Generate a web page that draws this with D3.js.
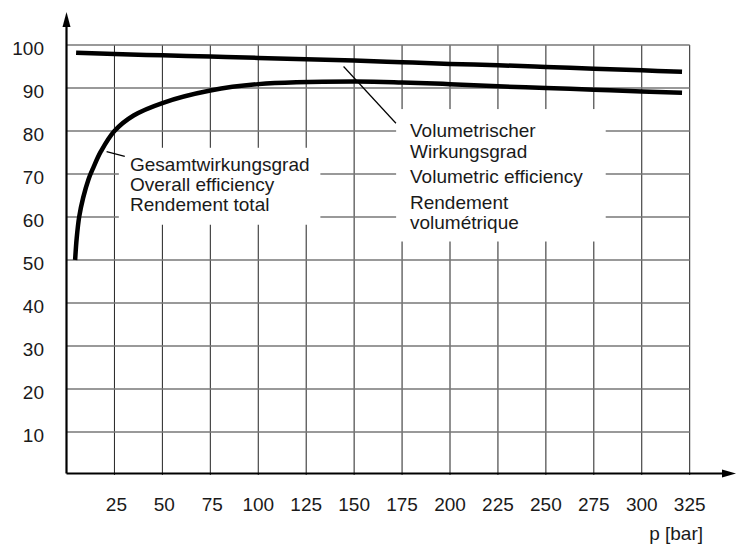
<!DOCTYPE html>
<html>
<head>
<meta charset="utf-8">
<script src="https://cdn.jsdelivr.net/npm/d3@7"></script>
<style>
  body { margin: 0; background: #fff; }
  svg text { font-family: "Liberation Sans", Arial, sans-serif; fill: #1a1a1a; }
</style>
</head>
<body>
<svg id="chart" width="736" height="545"></svg>
<script>
// 軸の目盛り
const xTicks = [25, 50, 75, 100, 125, 150, 175, 200, 225, 250, 275, 300, 325];
const yTicks = [10, 20, 30, 40, 50, 60, 70, 80, 90, 100];

// 容積効率 (Volumetric efficiency)
const volP   = [5, 25, 50, 75, 100, 150, 175, 200, 225, 250, 275, 300, 321];
const volEff = [98.2, 97.9, 97.6, 97.3, 97.0, 96.4, 96.0, 95.6, 95.3, 94.9, 94.5, 94.1, 93.8];

// 全効率 (Overall efficiency)
const totP   = [4.5, 5.3, 6.6, 8.7, 11.5, 14, 18, 25, 35, 50, 75, 100, 150, 175, 200, 225, 250, 275, 300, 321];
const totEff = [50, 55, 60, 64.5, 68.8, 71.5, 75.3, 80, 83.6, 86.5, 89.4, 90.9, 91.5, 91.3, 90.9, 90.4, 90.0, 89.6, 89.2, 88.9];

// ラベル
const totLabel = ["Gesamtwirkungsgrad", "Overall efficiency", "Rendement total"];
const volLabel = ["Volumetrischer", "Wirkungsgrad", "Volumetric efficiency", "Rendement", "volumétrique"];

const svg = d3.select('#chart');

// スケール
const x = d3.scaleLinear().domain([0, 325]).range([66.5, 689.7]);
const y = d3.scaleLinear().domain([0, 100]).range([475, 45]);

const g = svg.append('g');

// 縦のグリッド線
g.append('g')
  .selectAll('line')
  .data(xTicks)
  .enter()
  .append('line')
  .attr('x1', d => x(d)).attr('x2', d => x(d))
  .attr('y1', y(0)).attr('y2', y(100))
  .attr('stroke', '#222')
  .attr('stroke-width', 1);

// 横のグリッド線
g.append('g')
  .selectAll('line')
  .data(yTicks)
  .enter()
  .append('line')
  .attr('x1', x(0)).attr('x2', x(325))
  .attr('y1', d => y(d)).attr('y2', d => y(d))
  .attr('stroke', '#777')
  .attr('stroke-width', 1.4);

// ラベルの背景（グリッドを隠す）
const boxes = [
  { p0: 27.3, p1: 132.4, v0: 76.1, v1: 58.2 },
  { p0: 171.9, p1: 281.2, v0: 85.1, v1: 54.3 }
];
g.append('g')
  .selectAll('rect')
  .data(boxes)
  .enter()
  .append('rect')
  .attr('x', d => x(d.p0))
  .attr('y', d => y(d.v0))
  .attr('width', d => x(d.p1) - x(d.p0))
  .attr('height', d => y(d.v1) - y(d.v0))
  .attr('fill', '#fff');

// 軸
const axisY = y(0) - 1.5;
g.append('line')
  .attr('x1', x(0)).attr('x2', 731)
  .attr('y1', axisY).attr('y2', axisY)
  .attr('stroke', '#000').attr('stroke-width', 2.2);
g.append('line')
  .attr('x1', x(0)).attr('x2', x(0))
  .attr('y1', axisY).attr('y2', 20)
  .attr('stroke', '#000').attr('stroke-width', 2.2);
// 矢印
g.append('path')
  .attr('d', `M${x(0)},12 L${x(0) - 4},27 L${x(0) + 4},27 Z`)
  .attr('fill', '#000');
g.append('path')
  .attr('d', `M736,${axisY} L722,${axisY - 4} L722,${axisY + 4} Z`)
  .attr('fill', '#000');

// 目盛りラベル
g.append('g')
  .selectAll('text')
  .data(yTicks)
  .enter()
  .append('text')
  .attr('x', 44)
  .attr('y', d => y(d) + 10)
  .attr('text-anchor', 'end')
  .style('font-size', '19px')
  .text(d => d);

g.append('g')
  .selectAll('text')
  .data(xTicks)
  .enter()
  .append('text')
  .attr('x', d => x(d) + (d < 100 ? 2 : 0))
  .attr('y', 511)
  .attr('text-anchor', 'middle')
  .style('font-size', '19px')
  .text(d => d);

g.append('text')
  .attr('x', 703)
  .attr('y', 540)
  .attr('text-anchor', 'end')
  .style('font-size', '19px')
  .text('p [bar]');

// 曲線（急な立ち上がりもなめらかに）
const line = d3.line()
  .x(d => x(d[0]))
  .y(d => y(d[1]))
  .curve(d3.curveCatmullRom.alpha(0.5));

g.append('path')
  .datum(d3.zip(volP, volEff))
  .attr('d', line)
  .attr('fill', 'none')
  .attr('stroke', '#000')
  .attr('stroke-width', 4.5);

g.append('path')
  .datum(d3.zip(totP, totEff))
  .attr('d', line)
  .attr('fill', 'none')
  .attr('stroke', '#000')
  .attr('stroke-width', 4.5);

// 引き出し線
const leaders = [
  [[20.9, 75.2], [30.4, 74.1]],
  [[144.5, 95.0], [171.8, 81.8]]
];
g.append('g')
  .selectAll('line')
  .data(leaders)
  .enter()
  .append('line')
  .attr('x1', d => x(d[0][0])).attr('y1', d => y(d[0][1]))
  .attr('x2', d => x(d[1][0])).attr('y2', d => y(d[1][1]))
  .attr('stroke', '#000')
  .attr('stroke-width', 1.2);

// 注記テキスト
const totTextY = [170.7, 190.7, 210.7];
g.append('g')
  .selectAll('text')
  .data(totLabel)
  .enter()
  .append('text')
  .attr('x', 130)
  .attr('y', (d, i) => totTextY[i])
  .style('font-size', '19px')
  .text(d => d);

const volTextY = [136.7, 157.7, 183.3, 209.3, 229.3];
g.append('g')
  .selectAll('text')
  .data(volLabel)
  .enter()
  .append('text')
  .attr('x', 410)
  .attr('y', (d, i) => volTextY[i])
  .style('font-size', '19px')
  .text(d => d);
</script>
</body>
</html>
